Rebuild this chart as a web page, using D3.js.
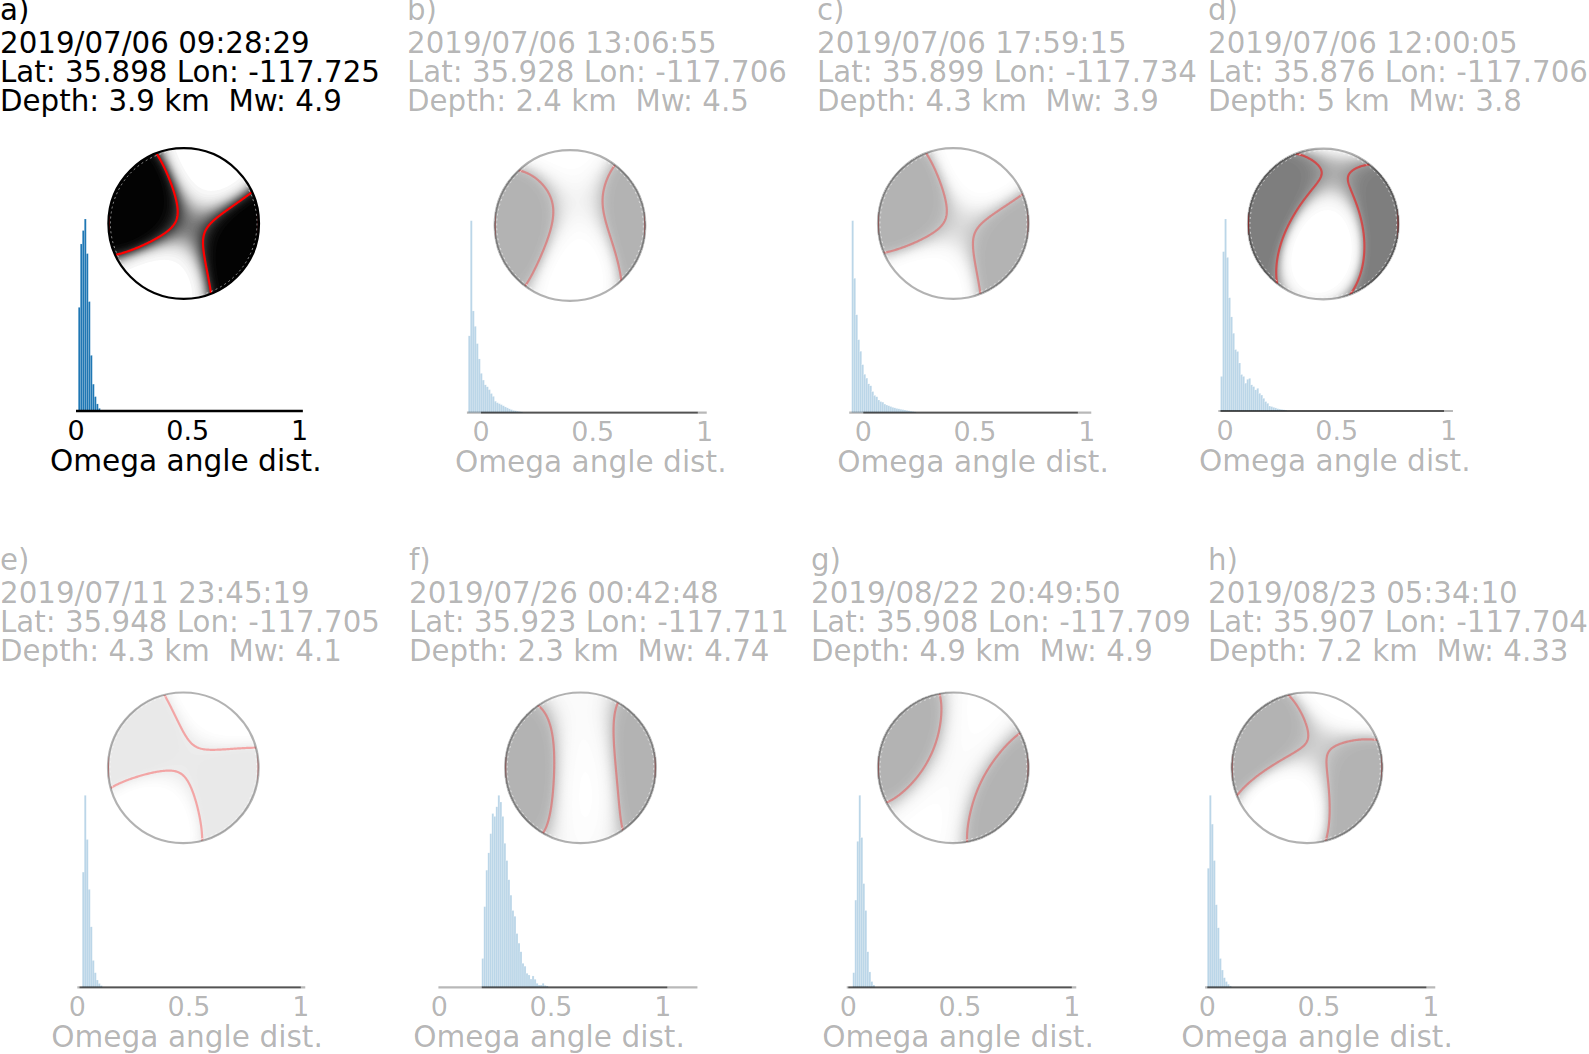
<!DOCTYPE html>
<html><head><meta charset="utf-8">
<script src="https://cdn.jsdelivr.net/npm/d3@7"></script>
<style>body{margin:0;background:#fff}svg{display:block}</style>
</head><body>
<svg id="chart" width="1589" height="1054"></svg>
<script>
// ---------------- DATA ----------------
const panelLabels = ["a)","b)","c)","d)","e)","f)","g)","h)"];
const eventTimes = ["2019/07/06 09:28:29","2019/07/06 13:06:55","2019/07/06 17:59:15","2019/07/06 12:00:05",
                    "2019/07/11 23:45:19","2019/07/26 00:42:48","2019/08/22 20:49:50","2019/08/23 05:34:10"];
const eventLat = [35.898,35.928,35.899,35.876,35.948,35.923,35.908,35.907];
const eventLon = [-117.725,-117.706,-117.734,-117.706,-117.705,-117.711,-117.709,-117.704];
const eventDepth = [3.9,2.4,4.3,5,4.3,2.3,4.9,7.2];
const eventMw = [4.9,4.5,3.9,3.8,4.1,4.74,4.9,4.33];

// moment tensor principal axes [azimuth, plunge] (deg) and eigenvalues
const tAxis = [[292,8],[268,10],[293,8],[280,5],[120,0],[268,5],[296,3],[297,0]];
const pAxis = [[22,0],[180,25],[23,0],[190,57.5],[210,10],[180,60],[26,0],[207,26]];
const eigT = [1,1,1,1,1,1,1,1];
const eigB = [-0.09,-0.25,-0.10,-0.05,0.09,-0.36,-0.36,-0.05];
const eigP = [-0.87,-0.75,-0.92,-0.96,-1.0,-0.47,-0.55,-0.95];
const shadeMax = [1,1,1,1,0.3,1,1,1];

// Omega angle distance histograms (relative density), bin width and first bin edge
const histBinWidth = 0.009;
const histStart = [0.01,-0.057,-0.052,-0.02,0.022,0.19,0.02,0.0];
const histA = [0.54,0.87,0.94,1.0,0.82,0.57,0.29,0.14,0.075,0.037,0.014];
const histB = [0.40,1.0,0.53,0.45,0.36,0.28,0.205,0.17,0.145,0.135,0.12,0.10,0.085,0.06,0.052,0.047,0.042,0.036,0.03,0.025,0.02,0.016,0.012,0.01,0.008,0.006,0.004];
const histC = [1.0,0.70,0.51,0.38,0.32,0.25,0.20,0.18,0.15,0.14,0.11,0.09,0.083,0.066,0.058,0.055,0.045,0.04,0.036,0.032,0.028,0.025,0.022,0.02,0.018,0.016,0.014,0.012,0.01,0.008,0.006,0.004];
const histD = [0.18,0.83,1.0,0.80,0.59,0.49,0.405,0.32,0.31,0.25,0.19,0.18,0.145,0.165,0.17,0.136,0.127,0.11,0.118,0.092,0.083,0.066,0.049,0.04,0.026,0.023,0.019,0.016,0.012,0.01,0.008,0.006,0.004];
const histE = [0.60,1.0,0.77,0.51,0.315,0.14,0.076,0.038,0.02,0.009];
const histF = [0.15,0.42,0.61,0.70,0.80,0.905,0.89,0.94,1.0,0.965,0.89,0.75,0.66,0.56,0.48,0.40,0.37,0.28,0.23,0.185,0.125,0.11,0.073,0.064,0.043,0.059,0.042,0.021,0.012,0.012,0.021,0.01,0.007];
const histG = [0.076,0.454,0.76,1.0,0.78,0.54,0.40,0.185,0.08,0.03,0.012];
const histH = [0.62,1.0,0.85,0.66,0.43,0.31,0.15,0.09,0.05,0.03,0.016,0.007];
const histValues = [histA,histB,histC,histD,histE,histF,histG,histH];

// axis extents (data units)
const spineLo = [0,-0.063,-0.063,-0.03,0,-0.004,-0.007,-0.01];
const spineHi = [1.015,1.01,1.02,1.02,1.02,1.155,1.02,1.02];
const darkLo = [0,0,0,-0.02,0.01,0.19,0,0];
const darkHi = [1.015,0.97,0.96,0.98,1.0,1.02,1.0,0.98];
const tickValues = [0,0.5,1];
const tickLabels = ["0","0.5","1"];
const xLabel = "Omega angle dist.";

// ---------------- LAYOUT / STYLE ----------------
const layout = [
  {tx:0,    ty:52.5, cx:183.7,  cy:223.5, x0:76,     base:411},
  {tx:407,  ty:52.5, cx:570,    cy:225.5, x0:481,    base:412.7},
  {tx:817,  ty:52.5, cx:953.3,  cy:223.5, x0:863.3,  base:412.7},
  {tx:1208, ty:52.5, cx:1323.3, cy:224,   x0:1225,   base:411},
  {tx:0,    ty:603,  cx:183.3,  cy:767.8, x0:77.3,   base:987.3},
  {tx:409,  ty:603,  cx:580.5,  cy:767.8, x0:439.3,  base:987.3},
  {tx:811,  ty:603,  cx:953.3,  cy:767.8, x0:848.3,  base:987.3},
  {tx:1208, ty:603,  cx:1307,   cy:767.8, x0:1207.3, base:987.3}
];
const panelAlpha = [1,0.3,0.3,0.3,0.3,0.3,0.3,0.3];
const ballAlpha  = [1,0.3,0.3,0.51,0.3,0.3,0.3,0.3];
const R = 75.3, UNIT = 223.5, HIST_H = 192, N = 170;
const FONT = "'DejaVu Sans', 'Liberation Sans', sans-serif";
const SHADE_C = -0.1, SHADE_S = 0.09;

// ---------------- HELPERS ----------------
const rad = Math.PI/180;
const axisVec = ([az,pl]) => [Math.cos(pl*rad)*Math.cos(az*rad), Math.cos(pl*rad)*Math.sin(az*rad), Math.sin(pl*rad)];
const dot = (a,b) => a[0]*b[0]+a[1]*b[1]+a[2]*b[2];
const cross = (a,b) => [a[1]*b[2]-a[2]*b[1], a[2]*b[0]-a[0]*b[2], a[0]*b[1]-a[1]*b[0]];
const unit = a => { const l = Math.hypot(a[0],a[1],a[2]); return a.map(x=>x/l); };

function momentTensor(i){
  const t = unit(axisVec(tAxis[i]));
  let p = axisVec(pAxis[i]); const d = dot(p,t);
  p = unit(p.map((x,k)=>x-d*t[k]));
  const b = cross(t,p);
  const M = [[0,0,0],[0,0,0],[0,0,0]];
  [[t,eigT[i]],[b,eigB[i]],[p,eigP[i]]].forEach(([v,l])=>{
    for(let r=0;r<3;r++) for(let c=0;c<3;c++) M[r][c] += l*v[r]*v[c];
  });
  return M;
}
function amplitudeGrid(M){
  const vals = new Float64Array(N*N);
  for(let j=0;j<N;j++) for(let k=0;k<N;k++){
    let u = -1+2*(k+0.5)/N, v = 1-2*(j+0.5)/N;
    let rho = Math.hypot(u,v);
    if(rho>1){u/=rho; v/=rho; rho=1;}
    let n;
    if(rho<1e-9) n=[0,0,1];
    else { const inc = 2*Math.asin(rho/Math.SQRT2), s = Math.sin(inc); n=[s*v/rho, s*u/rho, Math.cos(inc)]; }
    let A = 0;
    for(let r=0;r<3;r++) for(let c=0;c<3;c++) A += n[r]*M[r][c]*n[c];
    vals[j*N+k] = A;
  }
  return vals;
}

// ---------------- DRAW ----------------
const svg = d3.select("#chart");
const defs = svg.append("defs");
const shadeLevels = d3.range(0.02, 1.0, 0.02);

layout.forEach((L,i)=>{
  const g = svg.append("g");
  const pa = panelAlpha[i], ba = ballAlpha[i];

  // title
  const tg = g.append("g").attr("fill","#000").attr("fill-opacity",pa)
    .style("font-family",FONT).style("font-size","29.3px");
  tg.append("text").attr("x",L.tx).attr("y",L.ty-33).text(panelLabels[i]);
  const lines = [eventTimes[i],
    `Lat: ${eventLat[i].toFixed(3)} Lon: ${eventLon[i].toFixed(3)}`,
    `Depth: ${eventDepth[i]} km\u00a0 Mw: ${eventMw[i]}`];
  lines.forEach((s,k)=> tg.append("text").attr("x",L.tx).attr("y",L.ty+k*29.2).text(s));

  // histogram
  const x = d3.scaleLinear().domain([0,1]).range([L.x0, L.x0+UNIT]);
  const y = d3.scaleLinear().domain([0,1]).range([L.base, L.base-HIST_H]);
  const bins = histValues[i].map((h,k)=>({x0:histStart[i]+k*histBinWidth, x1:histStart[i]+(k+1)*histBinWidth, h}));
  g.append("g").selectAll("rect").data(bins).join("rect")
    .attr("x",d=>x(d.x0)).attr("width",d=>x(d.x1)-x(d.x0))
    .attr("y",d=>y(d.h)).attr("height",d=>y(0)-y(d.h))
    .attr("fill","#1f77b4").attr("fill-opacity",pa)
    .attr("stroke","#fff").attr("stroke-width",0.35).attr("stroke-opacity",0.5);

  // axis lines
  if(i===0){
    g.append("line").attr("x1",x(spineLo[i])).attr("x2",x(spineHi[i])).attr("y1",y(0)).attr("y2",y(0))
      .attr("stroke","#000").attr("stroke-width",2.6);
  } else {
    g.append("line").attr("x1",x(spineLo[i])).attr("x2",x(spineHi[i])).attr("y1",y(0)).attr("y2",y(0))
      .attr("stroke","#000").attr("stroke-opacity",0.28).attr("stroke-width",2.2);
    g.append("line").attr("x1",x(darkLo[i])).attr("x2",x(darkHi[i])).attr("y1",y(0)).attr("y2",y(0))
      .attr("stroke","#000").attr("stroke-opacity",0.55).attr("stroke-width",1.8);
  }
  const ag = g.append("g").attr("fill","#000").attr("fill-opacity",pa)
    .style("font-family",FONT).attr("text-anchor","middle");
  tickValues.forEach((t,k)=> ag.append("text").attr("x",x(t)).attr("y",L.base+28.5)
    .style("font-size","27px").text(tickLabels[k]));
  ag.append("text").attr("x",x(0.5)-2).attr("y",L.base+59.5).style("font-size","29.6px").text(xLabel);

  // beachball
  const M = momentTensor(i);
  const A = amplitudeGrid(M);
  const P = A.map(a => shadeMax[i]/(1+Math.exp(-(a-SHADE_C)/SHADE_S)));
  const proj = d3.geoIdentity().scale(2*R/N).translate([L.cx-R, L.cy-R]);
  const path = d3.geoPath(proj);
  const clipId = "clip"+i;
  defs.append("clipPath").attr("id",clipId).append("circle").attr("cx",L.cx).attr("cy",L.cy).attr("r",R);
  const bg = g.append("g").attr("clip-path",`url(#${clipId})`);
  bg.append("circle").attr("cx",L.cx).attr("cy",L.cy).attr("r",R).attr("fill","#fff");
  const gray = d3.scaleLinear().domain([0,1]).range([255, 255*(1-ba)]);
  const shadeContours = d3.contours().size([N,N]).thresholds(shadeLevels)(P);
  bg.selectAll("path.shade").data(shadeContours).join("path").attr("class","shade")
    .attr("d",path)
    .attr("fill",d=>{ const v = Math.round(gray(Math.min(1,d.value+0.01))); return d3.rgb(v,v,v).toString(); })
    .attr("stroke","none");
  const nodal = d3.contours().size([N,N]).thresholds([0])(A);
  bg.selectAll("path.nodal").data(nodal).join("path").attr("class","nodal")
    .attr("d",path).attr("fill","none").attr("stroke","#ff0000")
    .attr("stroke-opacity",ba).attr("stroke-width",2.2).attr("stroke-linejoin","round");
  // faint dashed inner rim
  g.append("circle").attr("cx",L.cx).attr("cy",L.cy).attr("r",R-2)
    .attr("fill","none").attr("stroke","#fff").attr("stroke-width",0.8)
    .attr("stroke-dasharray","2,3").attr("stroke-opacity",0.7);
  g.append("circle").attr("cx",L.cx).attr("cy",L.cy).attr("r",R)
    .attr("fill","none").attr("stroke","#000").attr("stroke-opacity",pa).attr("stroke-width",2.2);
});
</script>
</body></html>
